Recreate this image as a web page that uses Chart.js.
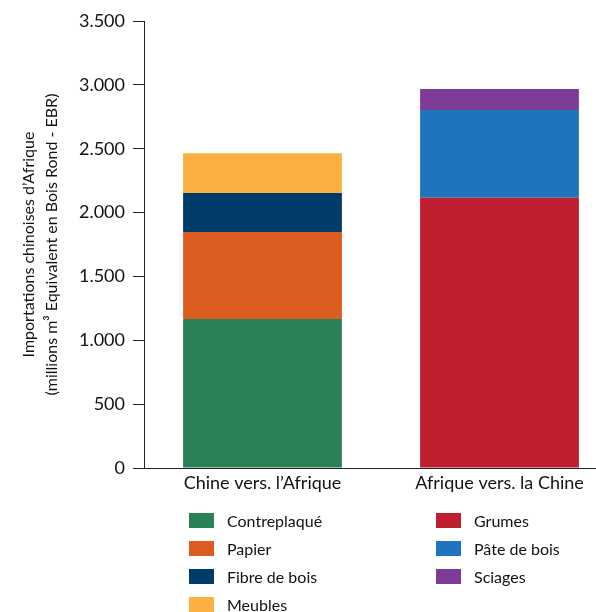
<!DOCTYPE html>
<html><head><meta charset="utf-8">
<script src="https://cdn.jsdelivr.net/npm/chart.js@4.4.1/dist/chart.umd.min.js"></script>
<style>
html,body{margin:0;padding:0;overflow:hidden;background:#fff;width:596px;height:612px;position:relative;}
#wrap{position:absolute;left:0;top:0;width:640px;height:500px;}
#legend{position:absolute;left:0;top:0;width:596px;height:612px;font-family:"Lato","DejaVu Sans",sans-serif;font-size:16px;color:#111;}
.item{position:absolute;height:15px;line-height:15px;white-space:nowrap;}
.box{position:absolute;left:0;top:0;width:25px;height:15px;}
.lbl{position:absolute;left:38px;top:0;}
</style>
</head><body>
<div id="wrap"><canvas id="c"></canvas></div>
<div id="legend"></div>
<script>
const categories = ["Chine vers. l\u2019Afrique", "Afrique vers. la Chine"];
const contreplaque = [1167, null];
const papier = [681, null];
const fibreDeBois = [305, null];
const meubles = [311, null];
const grumes = [null, 2117];
const pateDeBois = [null, 686];
const sciages = [null, 165];
const yTicks = [0, 500, 1000, 1500, 2000, 2500, 3000, 3500];
const yTitle = ["Importations chinoises d\u2019Afrique", "(millions m\u00B3 Equivalent en Bois Rond - EBR)"];

const series = [
  {label: "Contreplaqu\u00E9", data: contreplaque, color: "#2A8155", col: 0, row: 0},
  {label: "Papier", data: papier, color: "#DD5C20", col: 0, row: 1},
  {label: "Fibre de bois", data: fibreDeBois, color: "#003C69", col: 0, row: 2},
  {label: "Meubles", data: meubles, color: "#FBB040", col: 0, row: 3},
  {label: "Grumes", data: grumes, color: "#BE1E2D", col: 1, row: 0},
  {label: "P\u00E2te de bois", data: pateDeBois, color: "#1F75BD", col: 1, row: 1},
  {label: "Sciages", data: sciages, color: "#7D3C97", col: 1, row: 2}
];

const FONT = "'Lato','DejaVu Sans',sans-serif";
Chart.defaults.font.family = FONT;
Chart.defaults.color = "#111";

new Chart(document.getElementById('c'), {
  type: 'bar',
  data: {
    labels: categories,
    datasets: series.map(s => ({
      label: s.label, data: s.data, backgroundColor: s.color, borderWidth: 0,
      categoryPercentage: 1.0, barPercentage: 0.67
    }))
  },
  options: {
    responsive: true, maintainAspectRatio: false, animation: false,
    layout: {padding: {top: 21, right: 22, left: 0, bottom: 0}},
    plugins: {legend: {display: false}, tooltip: {enabled: false}},
    scales: {
      x: {
        stacked: true,
        grid: {display: false, drawTicks: false},
        border: {display: true, color: '#222', width: 1},
        ticks: {font: {size: 18}, color: '#111', padding: 4},
        afterFit: (ax) => { ax.height = 32; }
      },
      y: {
        stacked: true, min: 0, max: 3500,
        afterBuildTicks: (ax) => { ax.ticks = yTicks.map(v => ({value: v})); },
        afterFit: (ax) => { ax.width = 144; },
        grid: {display: true, drawOnChartArea: false, drawTicks: true, tickLength: 11, color: '#222'},
        border: {display: true, color: '#222', width: 1},
        ticks: {font: {size: 18}, color: '#111', padding: 8,
          callback: (v) => v.toLocaleString('de-DE')},
        title: {display: true, text: yTitle, font: {size: 16, lineHeight: 1.4}, color: '#111', padding: {top: 18, bottom: 0}}
      }
    }
  }
});

const lg = document.getElementById('legend');
series.forEach(s => {
  const d = document.createElement('div');
  d.className = 'item';
  d.style.left = (s.col === 0 ? 189 : 436) + 'px';
  d.style.top = (513 + 28 * s.row) + 'px';
  d.innerHTML = '<div class="box" style="background:' + s.color + '"></div><div class="lbl">' + s.label + '</div>';
  lg.appendChild(d);
});
</script>
</body></html>
